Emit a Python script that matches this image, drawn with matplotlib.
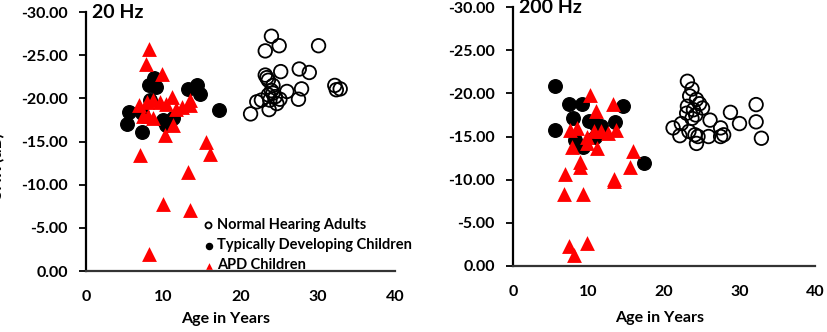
import matplotlib.pyplot as plt

# ---- data (age in years, SNR) ----
adult_age_20 = [24.0, 23.2, 25.0, 30.1, 23.2, 23.4, 25.2, 27.6, 28.9, 23.6, 24.2, 27.9, 32.2, 32.4,
                32.9, 26.0, 24.0, 24.5, 27.5, 22.1, 22.7, 23.8, 24.7, 21.3, 23.7, 23.6, 24.2, 25.1]
adult_snr_20 = [-27.2, -25.5, -26.1, -26.1, -22.7, -22.4, -23.1, -23.4, -23.0, -22.1, -21.5, -21.1, -21.5, -21.0,
                -21.1, -20.8, -20.9, -20.2, -19.9, -19.6, -19.8, -19.8, -19.4, -18.2, -18.7, -20.4, -20.6, -19.9]
td_age_20 = [5.6, 5.3, 7.3, 8.2, 8.8, 9.1, 13.2, 14.3, 14.7, 17.2, 10.0, 11.3, 10.4, 8.3, 7.2]
td_snr_20 = [-18.4, -17.0, -16.1, -21.5, -22.4, -21.3, -21.1, -21.5, -20.5, -18.6, -17.5, -17.7, -16.9, -19.8, -18.3]
apd_age_20 = [8.2, 7.8, 9.8, 7.0, 6.9, 7.9, 8.7, 9.6, 10.4, 11.1, 11.7, 12.4, 13.5, 13.5,
              7.4, 8.7, 10.2, 11.2, 15.5, 16.0, 13.2, 9.9, 13.5, 8.1, 8.0]
apd_snr_20 = [-25.7, -24.0, -22.8, -13.4, -19.2, -19.6, -19.8, -19.6, -19.4, -20.2, -18.8, -19.0, -19.8, -19.2,
              -17.9, -17.7, -15.7, -16.9, -15.0, -13.6, -11.5, -7.8, -7.1, -2.0, -17.9]

adult_age_200 = [23.1, 23.7, 23.4, 24.3, 24.7, 25.1, 23.1, 23.9, 23.0, 23.7, 24.2, 26.1, 28.8, 30.0,
                 32.2, 32.2, 32.9, 21.2, 22.3, 22.1, 23.3, 24.1, 24.3, 25.9, 27.5, 27.5, 27.9, 24.5]
adult_snr_200 = [-21.4, -20.5, -19.7, -19.3, -18.8, -18.3, -18.5, -18.1, -17.7, -17.1, -17.5, -16.9, -17.8, -16.5,
                 -18.7, -16.7, -14.8, -16.0, -16.5, -15.1, -15.6, -15.2, -14.2, -15.0, -15.0, -16.0, -15.2, -15.0]
td_age_200 = [5.5, 5.6, 7.4, 9.2, 8.0, 10.0, 10.9, 13.5, 14.6, 9.3, 10.9, 8.2, 17.3, 11.6]
td_snr_200 = [-20.8, -15.8, -18.8, -18.8, -17.2, -16.8, -16.5, -16.7, -18.5, -13.8, -15.0, -14.6, -11.9, -16.2]
apd_age_200 = [10.2, 13.2, 11.0, 7.6, 8.5, 9.8, 10.7, 11.6, 12.6, 13.7, 7.8, 11.1, 15.9, 15.5, 8.9, 8.9,
               6.9, 13.4, 13.4, 6.8, 9.3, 7.4, 8.1, 9.8, 9.8]
apd_snr_200 = [-19.8, -18.8, -17.9, -15.8, -16.0, -15.0, -15.6, -15.6, -15.4, -15.8, -13.8, -13.7, -13.3, -11.5, -12.1, -11.5,
               -10.6, -10.1, -9.8, -8.3, -8.3, -2.3, -1.3, -2.7, -14.2]

y_ticks = [0, -5, -10, -15, -20, -25, -30]
x_ticks = [0, 10, 20, 30, 40]
legend_labels = ["Normal Hearing Adults", "Typically Developing Children", "APD Children"]

font = "Lato"
plt.rcParams["font.family"] = [font, "DejaVu Sans"]
plt.rcParams["font.weight"] = "bold"

fig = plt.figure(figsize=(8.28, 3.32), dpi=100)
ax1 = fig.add_axes([0.1039, 0.1837, 0.3732, 0.780])
ax2 = fig.add_axes([0.6196, 0.1988, 0.3647, 0.780])

panels = [
    (ax1, "20 Hz", adult_age_20, adult_snr_20, td_age_20, td_snr_20, apd_age_20, apd_snr_20, (0.453, -0.16)),
    (ax2, "200 Hz", adult_age_200, adult_snr_200, td_age_200, td_snr_200, apd_age_200, apd_snr_200, (0.487, -0.172)),
]

msize = 95
for ax, title, a_x, a_y, t_x, t_y, p_x, p_y, lab_pos in panels:
    ax.scatter(a_x, a_y, s=msize, facecolors="none", edgecolors="black", linewidths=1.3,
               label=legend_labels[0], zorder=3)
    ax.scatter(t_x, t_y, s=msize, color="black", label=legend_labels[1], zorder=4)
    ax.scatter(p_x, p_y, s=msize * 1.2, marker="^", color="#ff0000", linewidths=0,
               label=legend_labels[2], zorder=5)

    ax.set_xlim(0, 40)
    ax.set_ylim(0, -30)
    ax.set_xticks(x_ticks)
    ax.set_yticks(y_ticks)
    ax.set_yticklabels([f"{v:.2f}" if v != 0 else "0.00" for v in y_ticks])
    ax.tick_params(axis="y", length=5, width=1.3, direction="out", pad=8, labelsize=11.5)
    ax.tick_params(axis="x", length=0, pad=14, labelsize=11.5)
    for s in ["top", "right"]:
        ax.spines[s].set_visible(False)
    ax.spines["left"].set_linewidth(1.6)
    ax.spines["bottom"].set_linewidth(1.6)
    ax.spines["bottom"].set_color("#333333")
    ax.set_xlabel("Age in Years", fontsize=11.5, fontweight="bold")
    ax.xaxis.set_label_coords(*lab_pos)
    ax.text(0.02, 1.0, title, transform=ax.transAxes, fontsize=14, fontweight="bold",
            ha="left", va="center")

ax1.legend(loc="lower left", bbox_to_anchor=(0.335, -0.045), frameon=False, fontsize=10.5,
           handletextpad=0.0, labelspacing=0.42, markerscale=0.45, borderpad=0.2, handlelength=1.2)

# y label is mostly cut off at the left edge in the reference
fig.text(-0.004, 0.5, "SNR (dB)", rotation=90, fontsize=12, fontweight="bold", ha="center", va="center")

fig.savefig("out.png", dpi=100)
